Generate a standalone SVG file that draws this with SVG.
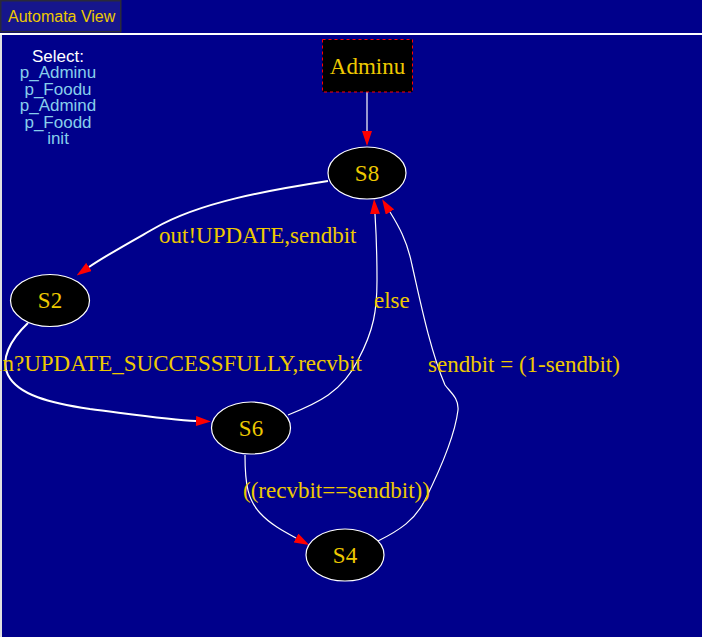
<svg xmlns="http://www.w3.org/2000/svg" width="702" height="637" viewBox="0 0 702 637">
<style>
.node ellipse{fill:#000;stroke:#fff;stroke-width:1.2}
.nt{font-family:"Liberation Serif","Times New Roman",serif;font-size:23px;fill:#EEC900;text-anchor:middle}
.lbl{font-family:"Liberation Serif","Times New Roman",serif;font-size:23px;fill:#EEC900}
.edge{fill:none;stroke:#fff;stroke-width:1.2}
.thick{stroke-width:2}
.sel{font-family:"Liberation Sans",Arial,sans-serif;font-size:17px;text-anchor:middle;fill:#87CEEB}
</style>
<defs>
<marker id="arr" viewBox="0 -5 15 10" markerWidth="15" markerHeight="10" refX="0" refY="0" orient="auto" markerUnits="userSpaceOnUse">
<path d="M0,-5 L15,0 L0,5 z" fill="#FF0000"/>
</marker>
</defs>
<rect x="0" y="0" width="702" height="637" fill="#00008B"/>
<rect x="0" y="35" width="2" height="602" fill="#E0E0E0"/>
<rect x="0" y="33" width="702" height="2" fill="#FFFFFF"/>
<g id="header">
<rect x="0.75" y="0.75" width="120" height="31" fill="#16168C" stroke="#2a2a3a" stroke-width="1.5"/>
<text x="8" y="22" font-family="'Liberation Sans',Arial,sans-serif" font-size="16" fill="#EEC900">Automata View</text>
</g>
<g id="select">
<text class="sel" x="58" y="62" fill="#FFFFFF" style="fill:#FFFFFF">Select:</text>
<text class="sel" x="58" y="78">p_Adminu</text>
<text class="sel" x="58" y="94.5">p_Foodu</text>
<text class="sel" x="58" y="111">p_Admind</text>
<text class="sel" x="58" y="127.5">p_Foodd</text>
<text class="sel" x="58" y="144">init</text>
</g>
<g id="edges">
<path class="edge" d="M367,92 L367,131" marker-end="url(#arr)"/>
<path class="edge thick" d="M328,181 C270,190 200,202 155,228 C125,245 105,256 89,267" marker-end="url(#arr)"/>
<path class="edge thick" d="M28,323 C10,340 0,360 8,375 C18,395 50,403 90,409 C130,414 170,420 196,421" marker-end="url(#arr)"/>
<path class="edge" d="M288,415 C318,403 342,392 358,360 C374,330 377,310 377,280 C377,250 376,230 375,214" marker-end="url(#arr)"/>
<path class="edge" d="M378,541 C400,530 415,520 425,500 C440,470 455,435 458,410 C459,398 450,392 445,385 C430,350 420,300 412,265 C407,240 398,225 390,212" marker-end="url(#arr)"/>
<path class="edge" d="M245,455 C245,485 248,500 260,513 C270,524 283,531 296,538" marker-end="url(#arr)"/>
<text class="lbl" x="159" y="243">out!UPDATE,sendbit</text>
<text class="lbl" x="362" y="371" text-anchor="end">in?UPDATE_SUCCESSFULLY,recvbit</text>
<text class="lbl" x="374" y="308">else</text>
<text class="lbl" x="428" y="372">sendbit = (1-sendbit)</text>
<text class="lbl" x="243" y="498">((recvbit==sendbit))</text>
</g>
<g id="Adminu" class="node">
<rect x="322.5" y="39.5" width="90" height="52.5" fill="#000" stroke="#FF0000" stroke-width="1" stroke-dasharray="3,3"/>
<text class="nt" x="367.5" y="73.5">Adminu</text>
</g>
<g id="S8" class="node">
<ellipse cx="367" cy="173" rx="39" ry="26"/>
<text class="nt" x="367" y="181">S8</text>
</g>
<g id="S2" class="node">
<ellipse cx="50" cy="300.5" rx="39.5" ry="26"/>
<text class="nt" x="50" y="308">S2</text>
</g>
<g id="S6" class="node">
<ellipse cx="251" cy="428" rx="39.5" ry="26"/>
<text class="nt" x="251" y="436">S6</text>
</g>
<g id="S4" class="node">
<ellipse cx="345" cy="555" rx="39" ry="26"/>
<text class="nt" x="345" y="563">S4</text>
</g>
</svg>
